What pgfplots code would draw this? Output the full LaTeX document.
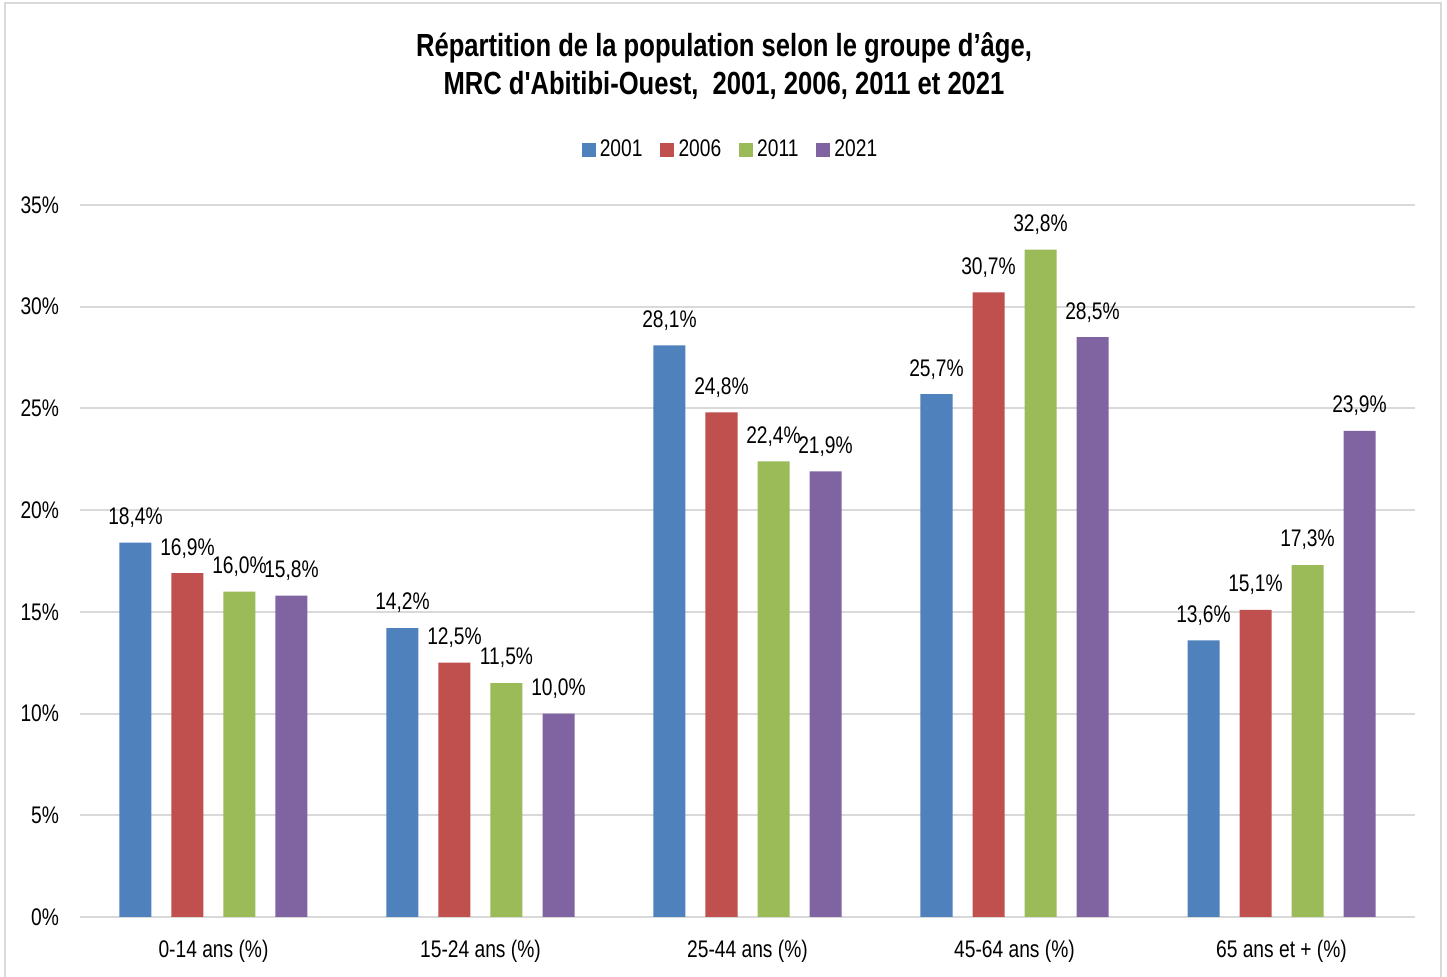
\documentclass[border=0pt]{standalone}
\usepackage{fontspec}
\setmainfont[FakeStretch=0.8]{Liberation Sans}
\newfontfamily\titlefont[FakeStretch=0.8]{Liberation Sans}
\usepackage{pgfplots}
\pgfplotsset{compat=1.18}
\definecolor{cA}{HTML}{4F81BD}
\definecolor{cB}{HTML}{C0504D}
\definecolor{cC}{HTML}{9BBB59}
\definecolor{cD}{HTML}{8064A2}
\definecolor{gridc}{HTML}{D9D9D9}
\begin{document}
\begin{tikzpicture}
\useasboundingbox (-40pt,-30pt) rectangle (683.5pt,458.5pt);
\fill[white] (-40pt,-30pt) rectangle (683.5pt,458.5pt);
\draw[gridc, line width=1pt] (-37.5pt,-40pt) rectangle (680.5pt,457pt);
\begin{axis}[
  at={(0,0)}, anchor=south west,
  scale only axis, width=667.5pt, height=356pt,
  xmin=-0.5, xmax=4.5, ymin=0, ymax=35,
  /pgf/number format/assume math mode=true,
  font=\fontsize{12}{14}\selectfont,
  axis line style={draw=none},
  major tick length=0pt,
  ymajorgrids, grid style={gridc, line width=1pt},
  ytick={0,5,...,35},
  yticklabels={0\%,5\%,10\%,15\%,20\%,25\%,30\%,35\%},
  yticklabel style={anchor=east, xshift=-7pt},
  xtick={0,1,2,3,4},
  xticklabels={0-14 ans (\%),15-24 ans (\%),25-44 ans (\%),45-64 ans (\%),65 ans et + (\%)},
  xticklabel style={yshift=-8pt},
  ybar, bar width=16pt,
  nodes near coords={\pgfmathprintnumber[fixed,fixed zerofill,precision=1,use comma]{\pgfplotspointmeta}\%},
  every node near coord/.append style={font=\fontsize{12}{14}\selectfont, yshift=4pt, text=black},
  legend columns=4,
  legend style={draw=none, fill=none, at={(0.5,1)}, anchor=center, yshift=27.5pt, xshift=-8pt,
    font=\fontsize{12}{14}\selectfont, inner sep=0pt,
    /tikz/every even column/.append style={column sep=7pt}},
  legend image code/.code={\fill[#1] (0pt,-3.5pt) rectangle (7pt,3.5pt);},
  legend cell align=left,
]
\addplot[fill=cA, draw=none, bar shift=-39pt] coordinates {(0,18.4) (1,14.2) (2,28.1) (3,25.7) (4,13.6)};
\addplot[fill=cB, draw=none, bar shift=-13pt] coordinates {(0,16.9) (1,12.5) (2,24.8) (3,30.7) (4,15.1)};
\addplot[fill=cC, draw=none, bar shift=13pt] coordinates {(0,16.0) (1,11.5) (2,22.4) (3,32.8) (4,17.3)};
\addplot[fill=cD, draw=none, bar shift=39pt] coordinates {(0,15.8) (1,10.0) (2,21.9) (3,28.5) (4,23.9)};
\legend{2001,2006,2011,2021}
\end{axis}
\node[align=center, font=\titlefont\bfseries\fontsize{16}{19}\selectfont] at (322pt,425.5pt)
  {Répartition de la population selon le groupe d’âge,\\MRC d'Abitibi-Ouest,\ \ 2001, 2006,\ 2011\ et 2021};
\end{tikzpicture}
\end{document}
